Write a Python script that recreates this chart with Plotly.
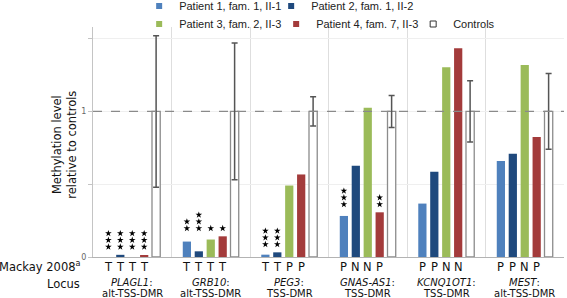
import plotly.graph_objects as go

# ---- data ----
loci = ["PLAGL1", "GRB10", "PEG3", "GNAS-AS1", "KCNQ1OT1", "MEST"]
dmr = ["alt-TSS-DMR", "alt-TSS-DMR", "TSS-DMR", "TSS-DMR", "TSS-DMR", "alt-TSS-DMR"]
p1 = [0.0, 0.106, 0.016, 0.282, 0.367, 0.659]
p2 = [0.015, 0.039, 0.032, 0.626, 0.585, 0.709]
p3 = [0.0, 0.12, 0.491, 1.025, 1.303, 1.319]
p4 = [0.012, 0.142, 0.567, 0.307, 1.434, 0.824]
controls = [1, 1, 1, 1, 1, 1]
ctrl_err = [0.52, 0.47, 0.10, 0.11, 0.21, 0.26]
mackay = [["T", "T", "T", "T"], ["T", "T", "T", "T"], ["T", "T", "P", "P"],
          ["P", "N", "N", "P"], ["P", "P", "N", "N"], ["P", "P", "N", "P"]]
stars = [[3, 3, 3, 3], [2, 3, 1, 1], [3, 3, 0, 0], [3, 0, 0, 2], [0, 0, 0, 0], [0, 0, 0, 0]]
names = ["Patient 1, fam. 1, II-1", "Patient 2, fam. 1, II-2",
         "Patient 3, fam. 2, II-3", "Patient 4, fam. 7, II-3", "Controls"]
colors = ["#4f81bd", "#1f497d", "#9bbb59", "#a33b3b"]

BARGAP = 0.24
BARGROUPGAP = 0.31
NB = 5
slot = (1 - BARGAP) / NB
xs = list(range(len(loci)))

def bar_x(g, k):
    return g - (1 - BARGAP) / 2 + (k + 0.5) * slot

fig = go.Figure()
series = [p1, p2, p3, p4]
for k, vals in enumerate(series):
    fig.add_trace(go.Bar(x=xs, y=vals, name=names[k], marker_color=colors[k],
                         marker_line_width=0, showlegend=False))
fig.add_trace(go.Bar(x=xs, y=controls, name=names[4], marker_color="white",
                     marker_line=dict(color="#8c8c8c", width=1.3), showlegend=False,
                     error_y=dict(type="data", array=ctrl_err, color="#555555",
                                  thickness=1.5, width=3)))

# legend proxies (row 1: two separate legends, row 2: one legend)
legend_ids = ["legend", "legend2", "legend3", "legend3", "legend3"]
for k in range(5):
    mk = dict(symbol="square", size=6, color=colors[k]) if k < 4 else \
        dict(symbol="square", size=6, color="white", line=dict(color="#333", width=1))
    fig.add_trace(go.Scatter(x=[None], y=[None], mode="markers", name=names[k],
                             marker=mk, legend=legend_ids[k]))

# significance stars
sx, sy = [], []
for g in range(len(loci)):
    starred = [series[k][g] for k in range(4) if stars[g][k] > 0]
    if not starred:
        continue
    base = max(starred) + 0.055
    for k in range(4):
        for s in range(stars[g][k]):
            sx.append(bar_x(g, k))
            sy.append(base + s * 0.046)
fig.add_trace(go.Scatter(x=sx, y=sy, mode="markers", showlegend=False,
                         marker=dict(symbol="star", size=5, color="black")))

ann = []
lab_font = dict(family="DejaVu Sans", size=11.5, color="#111")
loc_font = dict(family="DejaVu Sans", size=10, color="#111")
for g in range(len(loci)):
    for k in range(4):
        ann.append(dict(x=bar_x(g, k), y=0, xref="x", yref="y", text=mackay[g][k],
                        showarrow=False, yanchor="middle", yshift=-10, font=lab_font))
    ann.append(dict(x=g, y=0, xref="x", yref="y", text=f"<i>{loci[g]}</i>:",
                    showarrow=False, yanchor="middle", yshift=-25, font=loc_font))
    ann.append(dict(x=g, y=0, xref="x", yref="y", text=dmr[g],
                    showarrow=False, yanchor="middle", yshift=-36, font=loc_font))
ann.append(dict(x=-0.5, y=0, xref="x", yref="y", text="Mackay 2008<sup>a</sup>",
                showarrow=False, xanchor="right", yanchor="middle", xshift=-10, yshift=-9,
                font=lab_font))
ann.append(dict(x=-0.5, y=0, xref="x", yref="y", text="Locus",
                showarrow=False, xanchor="right", yanchor="middle", xshift=-11, yshift=-26.5,
                font=lab_font))
ann.append(dict(x=-0.0605, y=0.486, xref="paper", yref="paper",
                text="Methylation level<br>relative to controls", textangle=-90,
                showarrow=False, xanchor="center", yanchor="middle",
                font=dict(family="DejaVu Sans", size=11.5, color="#111")))

fig.add_shape(type="line", xref="paper", yref="y", x0=0, x1=1, y0=1, y1=1,
              line=dict(color="#8a8a8a", width=1.3, dash="dash"))

leg_common = dict(orientation="h", xanchor="left", yref="container",
                  yanchor="middle", entrywidthmode="pixels",
                  font=dict(family="Liberation Sans", size=11, color="#222"),
                  itemwidth=30, bgcolor="rgba(0,0,0,0)", borderwidth=0)

fig.update_layout(
    width=567, height=298,
    margin=dict(l=93, r=3, t=27, b=41, autoexpand=False),
    plot_bgcolor="white", paper_bgcolor="white",
    barmode="group", bargap=BARGAP, bargroupgap=BARGROUPGAP,
    annotations=ann,
    legend=dict(x=0.098, y=1 - 6 / 298, entrywidth=0, **leg_common),
    legend2=dict(x=0.098 + 132 / 471, y=1 - 6 / 298, entrywidth=0, **leg_common),
    legend3=dict(x=0.098, y=1 - 24 / 298, entrywidth=92, **leg_common),
    xaxis=dict(range=[-0.5, 5.5], tickmode="array",
               tickvals=[-0.5, 0.5, 1.5, 2.5, 3.5, 4.5, 5.5],
               showticklabels=False, showgrid=True, gridcolor="#dedede", gridwidth=1,
               showline=True, linecolor="#b3b3b3", linewidth=1, zeroline=False, ticks=""),
    yaxis=dict(range=[0, 1.58], tickmode="array", tickvals=[0, 0.5, 1, 1.5],
               ticktext=["0", "", "1", ""], showgrid=True, gridcolor="#efefef",
               showline=True, linecolor="#c4c4c4", linewidth=1, zeroline=False,
               ticks="outside", ticklen=4, tickcolor="#c4c4c4",
               tickfont=dict(family="DejaVu Sans", size=8, color="#666")),
)

fig.write_html("out.html", config={"displayModeBar": False},
               post_script="document.body.style.margin='0';")
